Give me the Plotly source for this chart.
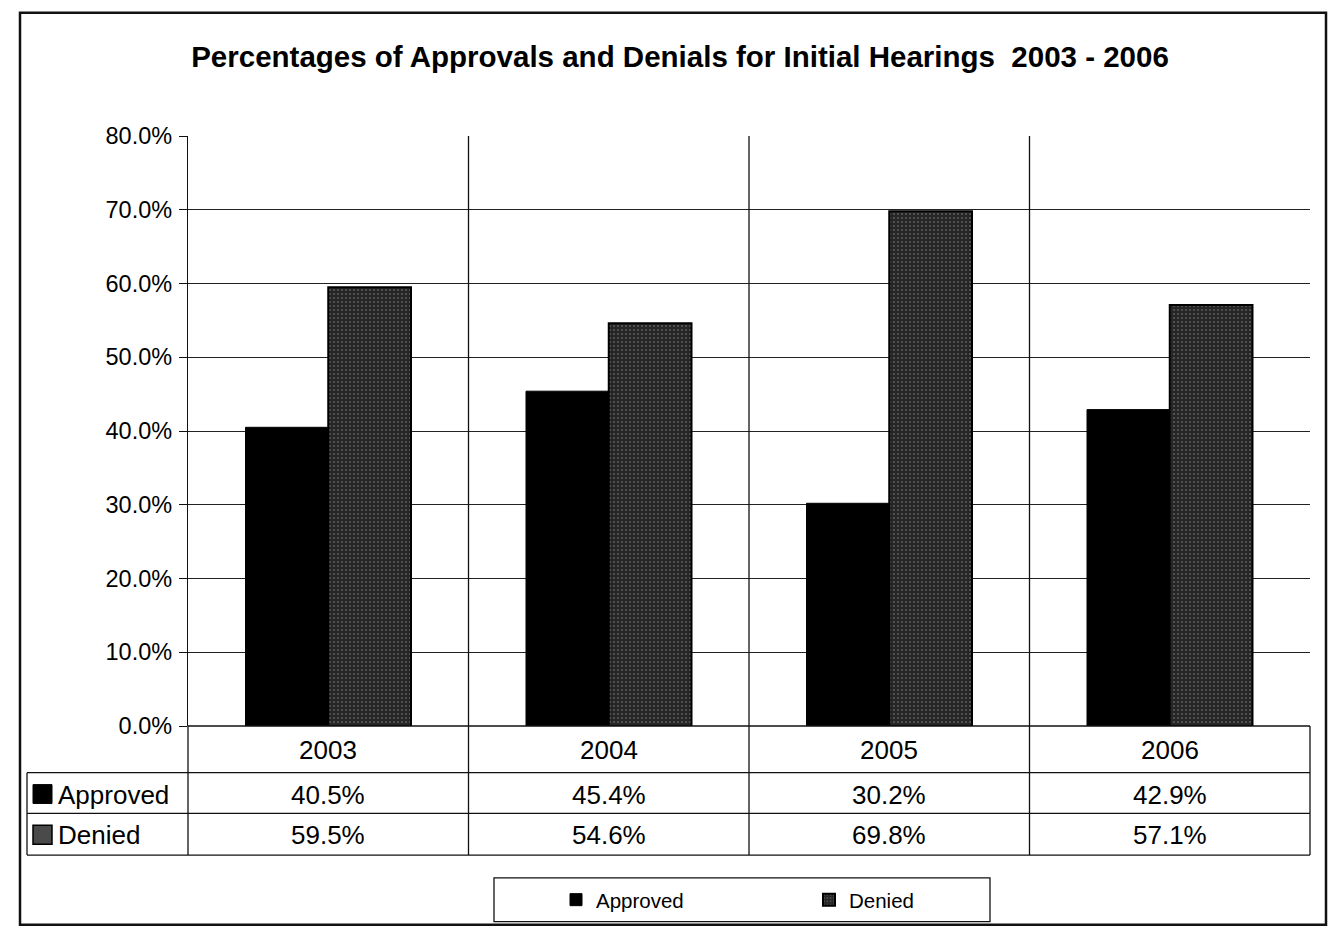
import plotly.graph_objects as go

# Data
years = ["2003", "2004", "2005", "2006"]
approved = [40.5, 45.4, 30.2, 42.9]
denied = [59.5, 54.6, 69.8, 57.1]
y_ticks = [0, 10, 20, 30, 40, 50, 60, 70, 80]

W, H = 1336, 932
L, R, T, B = 188, 26, 136, 202          # plot area margins (px)
PW, PH = W - L - R, H - T - B

def px(xp):
    return (xp - L) / PW

def py(yp):
    return (H - B - yp) / PH

FONT = "Liberation Sans, Arial, sans-serif"
xs = list(range(len(years)))

fig = go.Figure()
fig.add_trace(go.Bar(
    x=xs, y=approved, name="Approved",
    marker=dict(color="#000000", line=dict(color="#000000", width=1)),
))
fig.add_trace(go.Bar(
    x=xs, y=denied, name="Denied",
    marker=dict(
        color="#3a3a3a",
        line=dict(color="#000000", width=2),
        pattern=dict(shape=".", bgcolor="#262626", fgcolor="#8c8c8c",
                     size=4, solidity=0.22),
    ),
))

shapes = []
line = dict(color="#111111", width=1.3)

# category dividers through plot and table
for i in range(1, len(years)):
    shapes.append(dict(type="line", xref="x", yref="paper",
                       x0=i - 0.5, x1=i - 0.5, y0=py(860), y1=1, line=line))

# data table grid
row_y = [777, 818, 860]
for yy in row_y:
    shapes.append(dict(type="line", xref="paper", yref="paper",
                       x0=px(27), x1=1, y0=py(yy), y1=py(yy), line=line))
shapes.append(dict(type="line", xref="paper", yref="paper",
                   x0=0, x1=1, y0=0, y1=0, line=line))
shapes.append(dict(type="line", xref="paper", yref="paper",
                   x0=0, x1=0, y0=py(860), y1=0, line=line))
shapes.append(dict(type="line", xref="paper", yref="paper",
                   x0=1, x1=1, y0=py(860), y1=0, line=line))
shapes.append(dict(type="line", xref="paper", yref="paper",
                   x0=px(27), x1=px(27), y0=py(860), y1=py(777), line=line))

# series keys in the table
shapes.append(dict(type="rect", xref="paper", yref="paper",
                   x0=px(33), x1=px(52), y0=py(808), y1=py(789),
                   fillcolor="#000000", line=dict(color="#000000", width=1)))
shapes.append(dict(type="rect", xref="paper", yref="paper",
                   x0=px(33), x1=px(52), y0=py(849), y1=py(830),
                   fillcolor="#4a4a4a", line=dict(color="#000000", width=1.5)))

# legend frame
shapes.append(dict(type="rect", xref="paper", yref="paper",
                   x0=px(494), x1=px(990), y0=py(927), y1=py(883),
                   line=dict(color="#111111", width=1.3)))

# outer chart border
shapes.append(dict(type="rect", xref="paper", yref="paper",
                   x0=px(20), x1=px(1326), y0=py(930), y1=py(12),
                   line=dict(color="#111111", width=2.5)))

annotations = []
cell_font = dict(family=FONT, size=26, color="#000000")
for i, yr in enumerate(years):
    annotations.append(dict(x=i, y=py(754), xref="x", yref="paper",
                            text=yr, showarrow=False, font=cell_font,
                            xanchor="center", yanchor="middle"))
    annotations.append(dict(x=i, y=py(799), xref="x", yref="paper",
                            text=f"{approved[i]:.1f}%", showarrow=False,
                            font=cell_font, xanchor="center", yanchor="middle"))
    annotations.append(dict(x=i, y=py(840), xref="x", yref="paper",
                            text=f"{denied[i]:.1f}%", showarrow=False,
                            font=cell_font, xanchor="center", yanchor="middle"))
annotations.append(dict(x=px(56), y=py(799), xref="paper", yref="paper",
                        text="Approved", showarrow=False, font=cell_font,
                        xanchor="left", yanchor="middle"))
annotations.append(dict(x=px(56), y=py(840), xref="paper", yref="paper",
                        text="Denied", showarrow=False, font=cell_font,
                        xanchor="left", yanchor="middle"))

fig.update_layout(
    width=W, height=H,
    margin=dict(l=L, r=R, t=T, b=B, pad=0),
    paper_bgcolor="white", plot_bgcolor="white",
    barmode="group", bargap=0.41, bargroupgap=0,
    title=dict(
        text="<b>Percentages of Approvals and Denials for Initial Hearings\u00a0 2003 - 2006</b>",
        x=680 / W, y=1 - 57 / H, xref="container",
        yref="container", xanchor="center", yanchor="middle",
        font=dict(family=FONT, size=29.5, color="#000000"),
    ),
    xaxis=dict(range=[-0.5, len(years) - 0.5], showticklabels=False,
               showgrid=False, zeroline=False, showline=False, ticks=""),
    yaxis=dict(range=[0, 80], tickvals=y_ticks,
               ticktext=[f"{v:.1f}%" for v in y_ticks],
               showgrid=True, gridcolor="#222222", gridwidth=1,
               zeroline=False, showline=True, linecolor="#111111",
               linewidth=1.3, ticks="outside", ticklen=8, tickcolor="#111111",
               tickfont=dict(family=FONT, size=23.5, color="#000000"),
               ticklabelstandoff=2),
    showlegend=True,
    legend=dict(orientation="h", x=px(556), y=py(905), xref="paper",
                yref="paper", xanchor="left", yanchor="middle",
                entrywidth=208, entrywidthmode="pixels",
                bgcolor="rgba(0,0,0,0)", borderwidth=0,
                font=dict(family=FONT, size=20.5, color="#000000")),
    shapes=shapes,
    annotations=annotations,
)

fig.write_html("out.html")
